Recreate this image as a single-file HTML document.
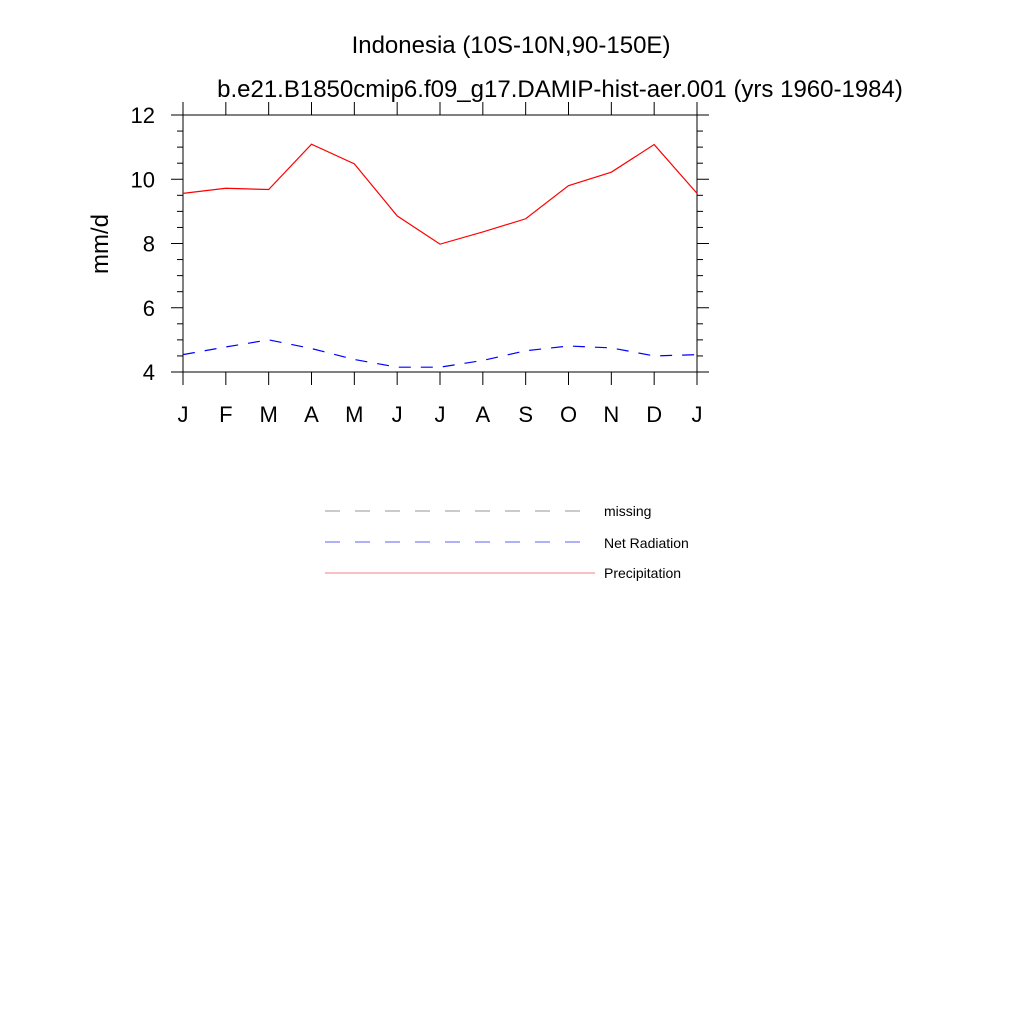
<!DOCTYPE html>
<html><head><meta charset="utf-8"><style>
body{margin:0;background:#fff}
svg text{font-family:"Liberation Sans",sans-serif;fill:#000}
</style></head><body>
<svg width="1024" height="1024" viewBox="0 0 1024 1024" xmlns="http://www.w3.org/2000/svg">
<rect width="1024" height="1024" fill="#fff"/>
<text x="511" y="53" font-size="24" text-anchor="middle">Indonesia (10S-10N,90-150E)</text>
<text x="560" y="97" font-size="24" text-anchor="middle">b.e21.B1850cmip6.f09_g17.DAMIP-hist-aer.001 (yrs 1960-1984)</text>
<text transform="translate(108,244) rotate(-90)" font-size="24" text-anchor="middle">mm/d</text>
<g id="axes"></g>
<g id="series"></g>
<g>
<line x1="325" y1="511" x2="585" y2="511" stroke="#aaa" stroke-width="1.2" stroke-dasharray="15,15"/>
<text x="604" y="516" font-size="14">missing</text>
<line x1="325" y1="542" x2="585" y2="542" stroke="#6060f0" stroke-width="1" stroke-dasharray="15,15"/>
<text x="604" y="548" font-size="14">Net Radiation</text>
<line x1="325" y1="573" x2="595" y2="573" stroke="#f08080" stroke-width="1"/>
<text x="604" y="578" font-size="14">Precipitation</text>
</g>
</svg>
<script>
const months = ["J","F","M","A","M","J","J","A","S","O","N","D","J"];
const precip = [9.56,9.72,9.68,11.09,10.48,8.86,7.98,8.36,8.77,9.80,10.22,11.08,9.56];
const netrad = [4.54,4.78,5.00,4.73,4.39,4.15,4.15,4.36,4.66,4.81,4.75,4.50,4.54];
const yTicks = [4,6,8,10,12];
const NS="http://www.w3.org/2000/svg";
const L=183,R=697,T=115,B=372,yMin=4,yMax=12;
function xs(i){return L+(R-L)*i/(months.length-1);}
function ys(v){return B-(B-T)*(v-yMin)/(yMax-yMin);}
function mk(tag,attrs,parent){const e=document.createElementNS(NS,tag);for(const k in attrs)e.setAttribute(k,attrs[k]);parent.appendChild(e);return e;}
const ax=document.getElementById('axes');
const frame=mk('rect',{x:L,y:T,width:R-L,height:B-T,fill:'none',stroke:'#000','stroke-width':1},ax);


months.forEach((m,i)=>{
  const x=xs(i);
  mk('line',{x1:x,y1:T,x2:x,y2:T-13,stroke:'#000'},ax);
  mk('line',{x1:x,y1:B,x2:x,y2:B+13,stroke:'#000'},ax);
  const t=mk('text',{x:x,y:422,'font-size':22,'text-anchor':'middle'},ax);
  t.textContent=m;
  
  
});
for(let v=yMin;v<=yMax+0.001;v+=0.5){
  const y=ys(v);const major=Math.abs(v-Math.round(v/2)*2)<0.01;
  const len=major?12:6;
  mk('line',{x1:L,y1:y,x2:L-len,y2:y,stroke:'#000'},ax);
  mk('line',{x1:R,y1:y,x2:R+len,y2:y,stroke:'#000'},ax);
}
yTicks.forEach(v=>{
  const t=mk('text',{x:155,y:ys(v)+8,'font-size':22,'text-anchor':'end'},ax);
  t.textContent=v;
  
  
});
const sg=document.getElementById('series');
const p1=mk('polyline',{points:precip.map((v,i)=>xs(i)+','+ys(v)).join(' '),fill:'none',stroke:'#ff0000','stroke-width':1.2},sg);


const p2=mk('polyline',{points:netrad.map((v,i)=>xs(i)+','+ys(v)).join(' '),fill:'none',stroke:'#0000ff','stroke-width':1.2,'stroke-dasharray':'12,10'},sg);


</script>
</body></html>
